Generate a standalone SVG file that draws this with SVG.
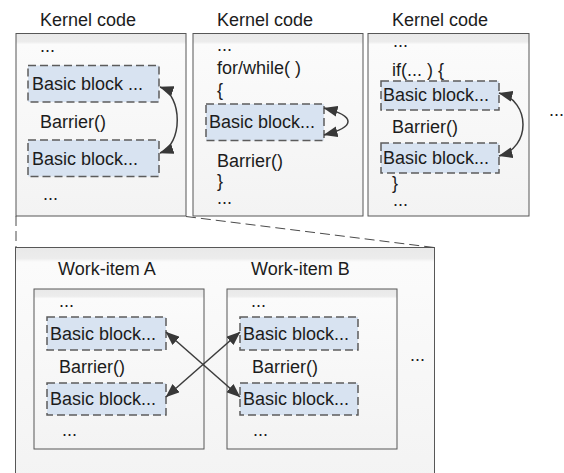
<svg xmlns="http://www.w3.org/2000/svg" width="564" height="473" viewBox="0 0 564 473">
  <defs>
    <linearGradient id="boxFill" x1="0" y1="0" x2="0" y2="1">
      <stop offset="0" stop-color="#e9e9e9"/>
      <stop offset="0.045" stop-color="#ececec"/>
      <stop offset="0.06" stop-color="#fbfbfb"/>
      <stop offset="1" stop-color="#f3f3f3"/>
    </linearGradient>
    <marker id="ah" viewBox="0 0 14 11" refX="13.5" refY="5.5" markerWidth="14" markerHeight="11" markerUnits="userSpaceOnUse" orient="auto-start-reverse">
      <path d="M0,0 L14,5.5 L0,11 Z" fill="#383838"/>
    </marker>
  </defs>
  <style>
    .box { fill: url(#boxFill); stroke: #575757; stroke-width: 1; }
    .blk { fill: #d8e3f1; stroke: #5c5c5c; stroke-width: 1.5; stroke-dasharray: 8 4; }
    .t { font-family: "Liberation Sans", Arial, sans-serif; font-size: 18px; fill: #1c1c1c; }
    .arr { fill: none; stroke: #3c3c3c; stroke-width: 1.5; marker-start: url(#ah); marker-end: url(#ah); }
    .zoom { fill: none; stroke: #4a4a4a; stroke-width: 1; stroke-dasharray: 10 5; }
  </style>

  <rect width="564" height="473" fill="#ffffff"/>

  <!-- kernel code: straight-line barrier -->
  <g id="kernel-1">
    <text class="t" x="40" y="26">Kernel code</text>
    <rect class="box" x="16" y="33.5" width="170" height="182.5"/>
    <text class="t" x="40" y="52">...</text>
    <rect class="blk" x="28" y="65.5" width="131" height="36.5"/>
    <text class="t" x="32" y="90">Basic block ...</text>
    <text class="t" x="40" y="128">Barrier()</text>
    <rect class="blk" x="28" y="140" width="131" height="36.5"/>
    <text class="t" x="32" y="165">Basic block...</text>
    <text class="t" x="43" y="200">...</text>
  </g>

  <!-- kernel code: barrier inside a loop -->
  <g id="kernel-2">
    <text class="t" x="217" y="26">Kernel code</text>
    <rect class="box" x="193" y="33.5" width="170" height="182.5"/>
    <text class="t" x="217" y="51">...</text>
    <text class="t" x="217" y="74">for/while( )</text>
    <text class="t" x="217" y="96">{</text>
    <rect class="blk" x="206" y="104" width="118" height="36.5"/>
    <text class="t" x="209" y="128">Basic block...</text>
    <text class="t" x="217" y="167">Barrier()</text>
    <text class="t" x="217" y="187">}</text>
    <text class="t" x="217" y="204">...</text>
  </g>

  <!-- kernel code: barrier inside a branch -->
  <g id="kernel-3">
    <text class="t" x="392" y="26">Kernel code</text>
    <rect class="box" x="368" y="33.5" width="161" height="182.5"/>
    <text class="t" x="393" y="47">...</text>
    <text class="t" x="392" y="76">if(... ) {</text>
    <rect class="blk" x="381" y="81" width="118" height="29"/>
    <text class="t" x="383" y="101">Basic block...</text>
    <text class="t" x="392" y="133">Barrier()</text>
    <rect class="blk" x="381" y="143" width="118" height="30"/>
    <text class="t" x="383" y="164">Basic block...</text>
    <text class="t" x="392" y="189">}</text>
    <text class="t" x="393" y="206">...</text>
  </g>

  <text class="t" x="549" y="116">...</text>

  <!-- expanded view: two work-items -->
  <g id="work-group">
    <rect class="box" x="15.5" y="247.5" width="419" height="240"/>
    <text class="t" x="410" y="361">...</text>
  </g>

  <g id="work-item-a">
    <text class="t" x="58" y="275">Work-item A</text>
    <rect class="box" x="34" y="289" width="170" height="160"/>
    <text class="t" x="59" y="307">...</text>
    <rect class="blk" x="47" y="317" width="119" height="33"/>
    <text class="t" x="50" y="340">Basic block...</text>
    <text class="t" x="59" y="373">Barrier()</text>
    <rect class="blk" x="47" y="383" width="119" height="32"/>
    <text class="t" x="50" y="405">Basic block...</text>
    <text class="t" x="62" y="436">...</text>
  </g>

  <g id="work-item-b">
    <text class="t" x="251" y="275">Work-item B</text>
    <rect class="box" x="227" y="289" width="170" height="160"/>
    <text class="t" x="251" y="307">...</text>
    <rect class="blk" x="240" y="317" width="118" height="33"/>
    <text class="t" x="243" y="340">Basic block...</text>
    <text class="t" x="252" y="373">Barrier()</text>
    <rect class="blk" x="240" y="383" width="118" height="32"/>
    <text class="t" x="243" y="405">Basic block...</text>
    <text class="t" x="253" y="436">...</text>
  </g>

  <g id="connectors">
    <!-- callout lines from the first kernel to the expanded view -->
    <line class="zoom" x1="16" y1="216" x2="16" y2="247.5"/>
    <line class="zoom" x1="186" y1="216.5" x2="434" y2="247.5"/>
    <!-- control-flow arrows -->
    <path class="arr" d="M160,87 C183,95 183,145 160,153"/>
    <path class="arr" d="M324,108 C356,116 356,127 324,135"/>
    <path class="arr" d="M499,93 C531,101 531,148 499,156"/>
    <path class="arr" d="M166,332 L240,397"/>
    <path class="arr" d="M166,397 L240,332"/>
  </g>
</svg>
